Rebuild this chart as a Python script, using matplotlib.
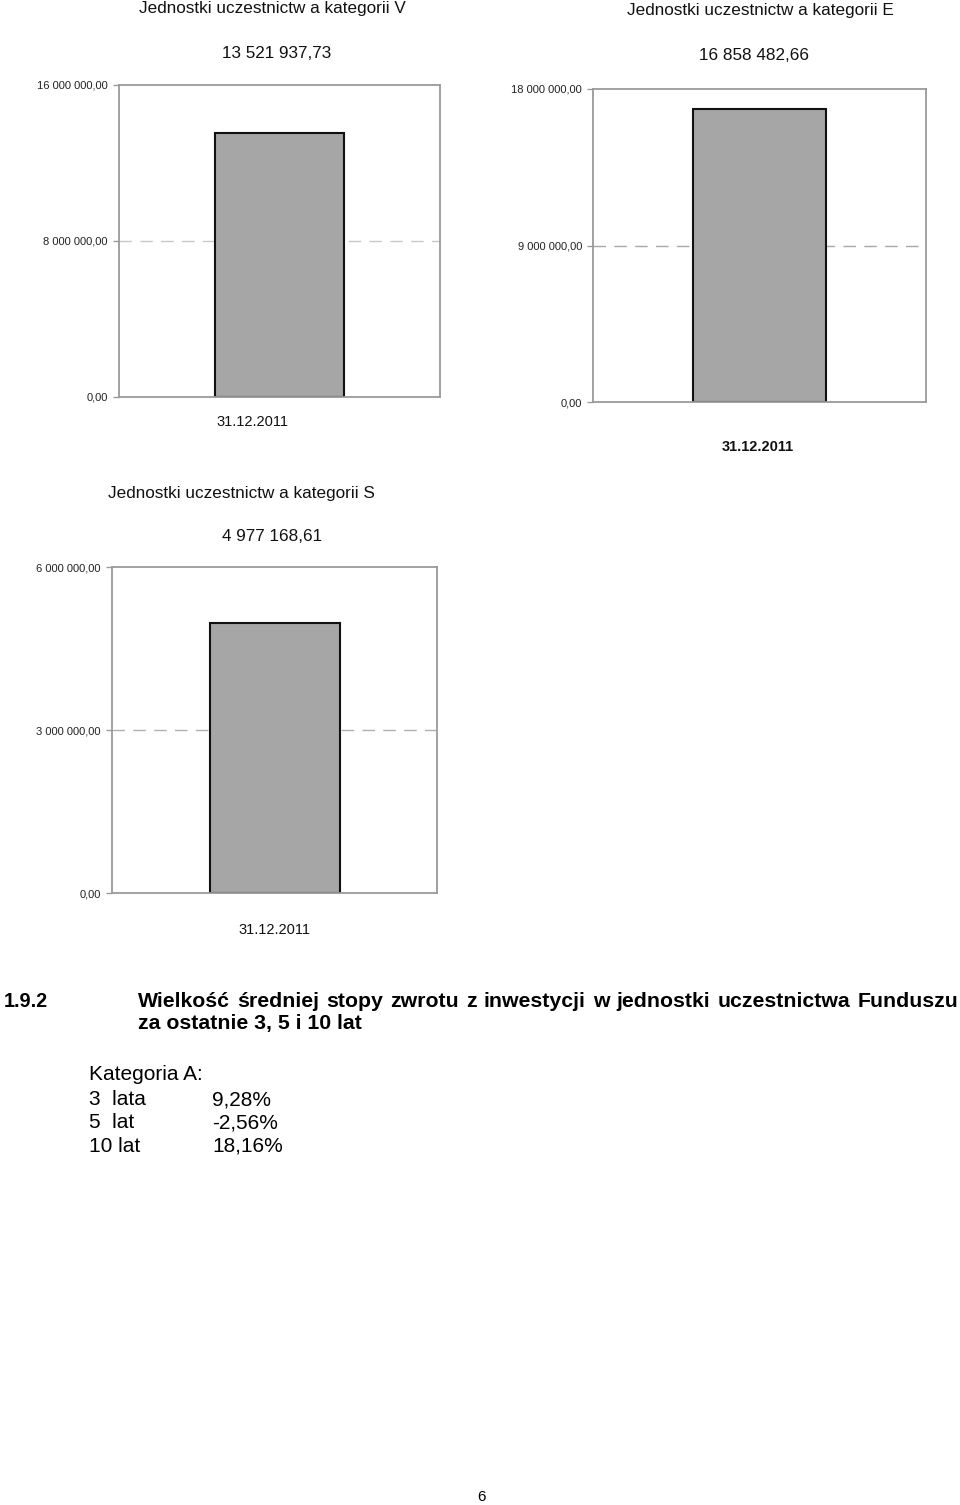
import matplotlib
matplotlib.use("Agg")
import matplotlib.pyplot as plt

# ---- data ----
categories = ["31.12.2011"]
titles = ["Jednostki uczestnictw a kategorii V",
          "Jednostki uczestnictw a kategorii E",
          "Jednostki uczestnictw a kategorii S"]
values_V = [13521937.73]
values_E = [16858482.66]
values_S = [4977168.61]
value_labels = ["13 521 937,73", "16 858 482,66", "4 977 168,61"]
ymax = [16000000, 18000000, 6000000]
tick_labels_V = ["0,00", "8 000 000,00", "16 000 000,00"]
tick_labels_E = ["0,00", "9 000 000,00", "18 000 000,00"]
tick_labels_S = ["0,00", "3 000 000,00", "6 000 000,00"]

heading_num = "1.9.2"
heading_line1 = "Wielkość średniej stopy zwrotu z inwestycji w jednostki uczestnictwa Funduszu"
heading_line2 = "za ostatnie 3, 5 i 10 lat"
kat_title = "Kategoria A:"
periods = ["3  lata", "5  lat", "10 lat"]
returns = ["9,28%", "-2,56%", "18,16%"]
page_number = "6"

W, H = 960, 1505
plt.rcParams['font.family'] = ['Liberation Sans', 'DejaVu Sans']
fig = plt.figure(figsize=(W / 100, H / 100), dpi=100)
fig.patch.set_facecolor("white")

def fx(x):
    return x / W

def fy(y):
    return 1 - y / H

def make_chart(box, values, top, ticklabels, title, title_xy, vlabel, vlabel_xy,
               cat_xy, cat_bold, grid_color):
    l, r, t, b = box
    ax = fig.add_axes([fx(l), fy(b), fx(r) - fx(l), (b - t) / H])
    ax.set_xlim(-0.5, 0.5)
    ax.set_ylim(0, top)
    ax.axhline(top / 2, color=grid_color, lw=1.0, ls=(0, (9, 6)), zorder=1)
    ax.bar([0], values, width=0.4, color="#a6a6a6", edgecolor="#111111",
           linewidth=1.5, zorder=2)
    for s in ax.spines.values():
        s.set_color("#9a9a9a")
        s.set_linewidth(1.3)
    ax.set_xticks([])
    ax.set_yticks([0, top / 2, top])
    ax.set_yticklabels(ticklabels, fontsize=8, color="#222222")
    ax.tick_params(axis="y", length=4, width=1.0, color="#9a9a9a", pad=4)
    fig.text(fx(title_xy[0]), fy(title_xy[1]), title, ha="center", va="center",
             fontsize=12.3, color="#111111")
    fig.text(fx(vlabel_xy[0]), fy(vlabel_xy[1]), vlabel, ha="center", va="center",
             fontsize=12.3, color="#111111")
    fig.text(fx(cat_xy[0]), fy(cat_xy[1]), categories[0], ha="center", va="center",
             fontsize=10.5, color="#111111",
             fontweight="bold" if cat_bold else "normal")
    return ax

make_chart((119, 440, 85, 397), values_V, ymax[0], tick_labels_V, titles[0], (272, 9),
           value_labels[0], (277, 54), (252, 422), False, "#c8c8c8")
make_chart((593, 926, 89, 402), values_E, ymax[1], tick_labels_E, titles[1], (760, 11),
           value_labels[1], (754, 56), (758, 447), True, "#a8a8a8")
make_chart((112, 437, 567, 893), values_S, ymax[2], tick_labels_S, titles[2], (241, 493),
           value_labels[2], (272, 537), (274, 930), False, "#b0b0b0")

# ---- text section ----
hfs = 15.3
fig.text(fx(4), fy(1007), heading_num, ha="left", va="baseline", fontsize=14.2,
         fontweight="bold", color="black")

# justified first heading line
words = heading_line1.split(" ")
fig.canvas.draw()
renderer = fig.canvas.get_renderer()
word_texts = []
widths = []
for w in words:
    t = fig.text(0, fy(1007), w, ha="left", va="baseline", fontsize=hfs,
                 fontweight="bold", color="black")
    bb = t.get_window_extent(renderer=renderer)
    word_texts.append(t)
    widths.append(bb.width)
x_start, x_end = 138, 958
gap = (x_end - x_start - sum(widths)) / (len(words) - 1)
x = x_start
for t, wd in zip(word_texts, widths):
    t.set_x(fx(x))
    x += wd + gap

fig.text(fx(138), fy(1029), heading_line2, ha="left", va="baseline", fontsize=hfs,
         fontweight="bold", color="black")

kfs = 15
fig.text(fx(89), fy(1080), kat_title, ha="left", va="baseline", fontsize=kfs, color="black")
for i, (p, rv) in enumerate(zip(periods, returns)):
    yb = 1105 + i * 23.5
    fig.text(fx(89), fy(yb), p, ha="left", va="baseline", fontsize=kfs, color="black")
    fig.text(fx(212), fy(yb), rv, ha="left", va="baseline", fontsize=kfs, color="black")

fig.text(fx(481), fy(1497), page_number, ha="center", va="center", fontsize=11, color="black")

fig.savefig("out.png", dpi=100, facecolor="white")
